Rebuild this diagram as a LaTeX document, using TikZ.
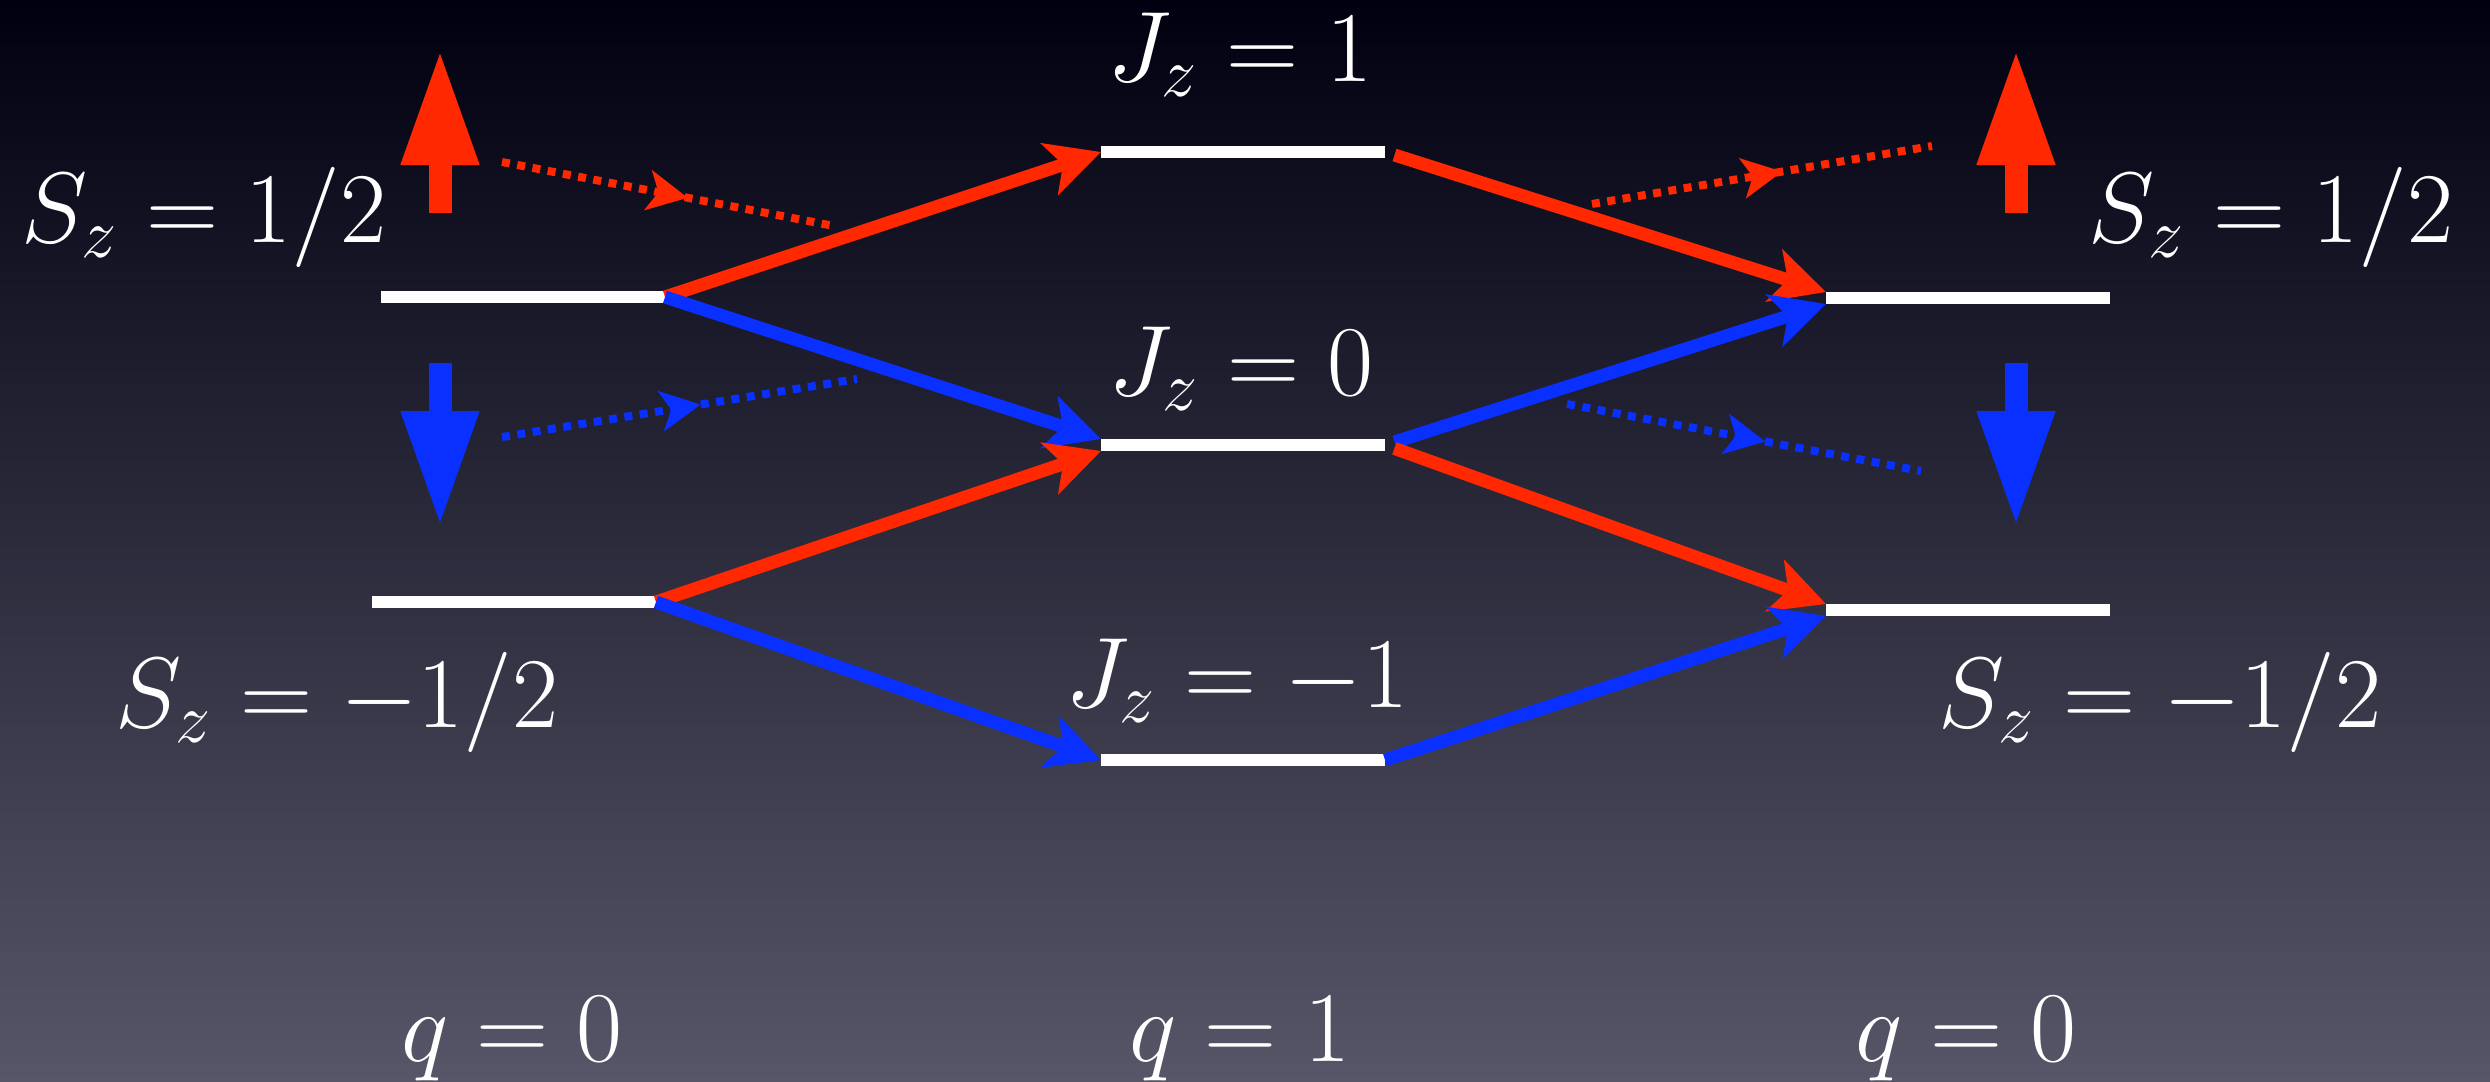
\RequirePackage{fix-cm}
\documentclass[tikz,border=0pt]{standalone}
\usepackage{amsmath}
\usepackage{xcolor}
\usepackage{tikz}
\usetikzlibrary{arrows.meta,positioning,decorations.markings}
\definecolor{spinred}{RGB}{255,40,0}
\definecolor{spinblue}{RGB}{10,48,255}
\definecolor{bgtop}{RGB}{0,0,16}
\definecolor{bgmid}{RGB}{36,36,56}
\definecolor{bgbot}{RGB}{86,86,104}
\tikzset{
  level/.style={fill=white, minimum width=2.84cm, minimum height=1.2mm, inner sep=0pt, outer sep=0pt},
  lbl/.style={text=white, inner sep=0pt, anchor=base, font=\fontsize{28.5}{34}\selectfont},
  rflow/.style={-{Stealth[length=5.4mm,width=5.4mm,inset=1.4mm]}, line width=1.3mm, draw=spinred},
  bflow/.style={-{Stealth[length=5.4mm,width=5.4mm,inset=1.4mm]}, line width=1.3mm, draw=spinblue},
  spinup/.style={-{Triangle[length=11.6mm,width=7.2mm]}, line width=2.3mm, draw=spinred},
  spindn/.style={-{Triangle[length=11.6mm,width=7.2mm]}, line width=2.3mm, draw=spinblue},
  dotflow/.style={line width=0.8mm, dash pattern=on 0.8mm off 0.75mm, postaction={decorate},
    decoration={markings, mark=at position 0.56 with {\arrow{Stealth[length=4mm,width=4mm,inset=1mm]}}}},
  rdot/.style={dotflow, draw=spinred},
  bdot/.style={dotflow, draw=spinblue},
}
\begin{document}
\begin{tikzpicture}
  \useasboundingbox (0,0) rectangle (24.9,-10.82);
  \shade[top color=bgtop, middle color=bgmid, bottom color=bgbot] (0,0) rectangle (24.9,-10.82);
  % levels
  \node[level] (lu) at (5.23,-2.97) {};
  \node[level] (ld) at (5.14,-6.02) {};
  \node[level] (mt) at (12.43,-1.52) {};
  \node[level] (mm) at (12.43,-4.45) {};
  \node[level] (mb) at (12.43,-7.60) {};
  \node[level] (ru) at (19.68,-2.98) {};
  \node[level] (rd) at (19.68,-6.10) {};
  % labels
  \node[lbl] (slu) at (2.04,-2.42) {$S_z=1/2$};
  \node[lbl] (sld) at (3.37,-7.27) {$S_z=-1/2$};
  \node[lbl] (jt) at (12.40,-0.81) {$J_z=1$};
  \node[lbl] (jm) at (12.41,-3.95) {$J_z=0$};
  \node[lbl] (jb) at (12.37,-7.07) {$J_z=-1$};
  \node[lbl] (sru) at (22.71,-2.42) {$S_z=1/2$};
  \node[lbl] (srd) at (21.60,-7.27) {$S_z=-1/2$};
  \node[lbl] (ql) at (5.12,-10.61) {$q=0$};
  \node[lbl] (qm) at (12.40,-10.61) {$q=1$};
  \node[lbl] (qr) at (19.66,-10.61) {$q=0$};
  % spins
  \draw[spinup] (4.40,-2.13) -- (4.40,-0.49);
  \draw[spindn] (4.40,-3.63) -- (4.40,-5.27);
  \draw[spinup] (20.16,-2.13) -- (20.16,-0.49);
  \draw[spindn] (20.16,-3.63) -- (20.16,-5.27);
  % couplings
  \draw[rflow] (lu.east) -- (mt.west);
  \draw[bflow] (lu.east) -- (mm.north west);
  \draw[rflow] (ld.east) -- (mm.south west);
  \draw[bflow] (ld.east) -- (mb.west);
  \draw[rflow, shorten <=1mm] (mt.east) -- (ru.north west);
  \draw[bflow, shorten <=1mm] (mm.east) -- (ru.south west);
  \draw[rflow, shorten <=1mm] (mm.east) -- (rd.north west);
  \draw[bflow] (mb.east) -- (rd.south west);
  % incoming / outgoing spin
  \coordinate (ra0) at (5.02,-1.62);  \coordinate (ra1) at (8.34,-2.26);
  \coordinate (ba0) at (5.02,-4.37);  \coordinate (ba1) at (8.57,-3.79);
  \coordinate (rb0) at (15.92,-2.04); \coordinate (rb1) at (19.32,-1.46);
  \coordinate (bb0) at (15.67,-4.04); \coordinate (bb1) at (19.21,-4.71);
  \draw[rdot] (ra0) -- (ra1);
  \draw[bdot] (ba0) -- (ba1);
  \draw[rdot] (rb0) -- (rb1);
  \draw[bdot] (bb0) -- (bb1);
\end{tikzpicture}
\end{document}
